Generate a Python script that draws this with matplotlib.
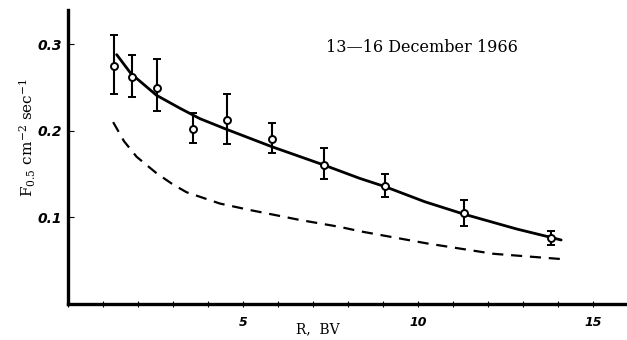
import matplotlib
matplotlib.use("Agg")
import matplotlib.pyplot as plt
from matplotlib.ticker import MultipleLocator, FixedLocator

# Data
R_points = [1.32, 1.82, 2.55, 3.56, 4.53, 5.82, 7.31, 9.06, 11.30, 13.79]
F_points = [0.275, 0.262, 0.250, 0.202, 0.213, 0.191, 0.161, 0.136, 0.105, 0.076]
F_upper = [0.311, 0.287, 0.283, 0.221, 0.243, 0.209, 0.180, 0.150, 0.120, 0.084]
F_lower = [0.243, 0.239, 0.223, 0.186, 0.185, 0.174, 0.144, 0.123, 0.090, 0.068]

R_fit = [1.39, 1.8, 2.53, 3.2, 3.77, 4.53, 5.82, 7.31, 8.34, 9.06, 10.2, 11.3, 12.82, 13.79, 14.09]
F_fit = [0.288, 0.266, 0.241, 0.226, 0.214, 0.2017, 0.1817, 0.1605, 0.145, 0.1355,
         0.118, 0.1039, 0.0866, 0.077, 0.0739]

R_dash = [1.29, 1.6, 1.96, 2.53, 3.0, 3.39, 4.34, 5.2, 6.63, 7.77, 8.34, 10.25, 12.15, 14.06]
F_dash = [0.210, 0.188, 0.170, 0.151, 0.138, 0.129, 0.116, 0.1085, 0.097, 0.089, 0.084,
          0.070, 0.058, 0.052]

x_major = [5, 10, 15]
x_major_labels = ["5", "10", "15"]
y_major = [0.1, 0.2, 0.3]
y_major_labels = ["0.1", "0.2", "0.3"]

title_text = "13\u201416 December 1966"
xlabel_text = "R,  BV"
ylabel_text = r"F$_{0.5}$ cm$^{-2}$ sec$^{-1}$"

W, H = 627, 340
fig = plt.figure(figsize=(W / 100, H / 100), dpi=100)
left, right, bottom, top = 68, 625, 304, 10
ax = fig.add_axes([left / W, 1 - bottom / H, (right - left) / W, (bottom - top) / H])
ax.set_xlim(0, (right - left) / 35.0)
ax.set_ylim(0, (bottom - top) / 866.0)

serif = ["DejaVu Serif"]
plt.rcParams["mathtext.fontset"] = "dejavuserif"

ax.plot(R_fit, F_fit, color="black", lw=2.0, solid_capstyle="round",
        solid_joinstyle="round", zorder=2)
ax.plot(R_dash, F_dash, color="black", lw=1.6, dashes=(5, 3.5), zorder=2)

yerr_low = [f - l for f, l in zip(F_points, F_lower)]
yerr_up = [u - f for f, u in zip(F_points, F_upper)]
ax.errorbar(R_points, F_points, yerr=[yerr_low, yerr_up], fmt="o", ms=5,
            mfc="white", mec="black", mew=1.4, ecolor="black", elinewidth=1.5,
            capsize=3, capthick=1.5, zorder=3)

for s in ["top", "right"]:
    ax.spines[s].set_visible(False)
for s in ["left", "bottom"]:
    ax.spines[s].set_linewidth(2.4)

ax.xaxis.set_major_locator(FixedLocator(x_major))
ax.set_xticklabels(x_major_labels, fontstyle="italic", fontweight="bold", fontsize=9)
ax.xaxis.set_minor_locator(MultipleLocator(1))
ax.yaxis.set_major_locator(FixedLocator(y_major))
ax.set_yticklabels(y_major_labels, fontstyle="italic", fontweight="bold", fontsize=10)
ax.tick_params(axis="x", which="both", direction="inout", length=4, width=0.8, pad=7)
ax.tick_params(axis="y", which="major", direction="in", length=4, width=0.8, pad=4)

fig.text(422 / W, 1 - 47 / H, title_text, family=serif, fontsize=11.5,
         ha="center", va="center")
fig.text(318 / W, 1 - 329 / H, xlabel_text, family=serif, fontsize=10,
         ha="center", va="center")
fig.text(28 / W, 1 - 138 / H, ylabel_text, family=serif, fontsize=11,
         ha="center", va="center", rotation=90)

fig.savefig("out.png", dpi=100)
